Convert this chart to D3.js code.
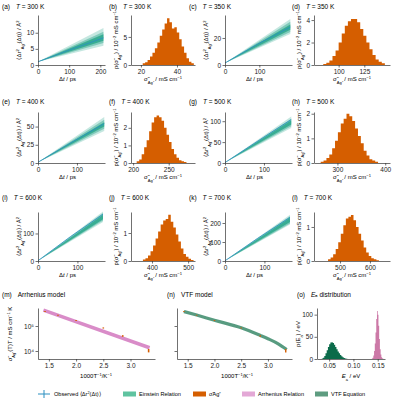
<!DOCTYPE html>
<html><head><meta charset="utf-8">
<script src="https://cdn.jsdelivr.net/npm/d3@7"></script>
<style>body{margin:0;background:#fff}svg{font-family:"Liberation Sans",Arial,sans-serif}</style>
</head><body><svg id="c" width="400" height="400"></svg>
<script>
// ---------- data ----------
const msdLabels=["(a)","(c)","(e)","(g)","(i)","(k)"];
const msdTemps=[300,350,400,500,600,700];
const msdTmax=[210,190,170,170,165,165];
const msdStart=[1,1.5,1,1,1,1];
const msdOuter=[[6,11.5],[23,34],[44,63],[84,111],[142,180],[192,243]];
const msdMid=[[6.8,10.3],[24.5,32],[47,59.5],[88,106],[147,174],[198,236]];
const msdInner=[[7.5,9.5],[26,30],[50,56],[92,102],[152,168],[205,228]];
const msdObsMidT=[105,95,85,100,82,82];
const msdObsMid=[4.8,15.5,28,62,88,118];
const msdObsEnd=[8.4,28,54,104,170,230];
const msdXTicks=[[0,100,200],[0,100],[0,100],[0,100],[0,100],[0,100]];
const msdYTicks=[[0,5,10],[0,20],[0,25,50],[0,50,100],[0,100],[0,100,200]];

const histLabels=["(b)","(d)","(f)","(h)","(j)","(l)"];
const histStart=[21,85,205,265,375,460];
const histWidth=[1.35,3,3.5,6,7,8.5];
const histCounts=[
 [0.3,0.5,0.9,1.5,2.2,3.0,4.0,5.2,6.3,7.4,8.3,7.6,6.5,6.7,5.8,4.6,3.3,2.2,1.2,0.6,0.3],
 [0.1,0.2,0.4,0.8,1.3,2.0,2.8,3.5,3.9,4.1,4.1,3.8,3.2,2.6,2.0,1.4,0.9,0.5,0.3,0.15],
 [0.1,0.2,0.5,0.9,1.3,1.8,2.3,2.6,2.7,2.6,2.4,2.0,1.6,1.2,0.8,0.5,0.3,0.15,0.1,0.05],
 [0.05,0.1,0.2,0.35,0.6,0.9,1.25,1.6,1.8,2.0,1.9,1.7,1.4,1.1,0.8,0.5,0.3,0.15,0.1,0.05],
 [0.05,0.1,0.2,0.35,0.55,0.8,1.05,1.3,1.45,1.5,1.65,1.4,1.2,0.95,0.7,0.45,0.25,0.15,0.08,0.04],
 [0.05,0.1,0.2,0.35,0.55,0.8,1.05,1.25,1.3,1.35,1.2,1.0,0.8,0.6,0.4,0.25,0.15,0.08,0.05,0.02]];
const histXTicks=[[20,40],[100,125],[200,250],[300,400],[400,500],[500,600]];
const histYTicks=[[0,5],[0,2,4],[0,1,2],[0,1,2],[0,1],[0,1]];

const invT=[3.333,2.857,2.5,2.0,1.667,1.429];
const sigT=[1.05e4,4.0e4,8.3e4,1.65e5,2.7e5,3.8e5];
const sigTLo=[0.88e4,3.7e4,7.9e4,1.58e5,2.6e5,3.65e5];
const sigTHi=[1.2e4,4.3e4,8.8e4,1.72e5,2.8e5,3.95e5];
const arrLineX=[1.4,3.35];
const arrLineY=[4.3e5,1.35e4];
const vtfX=[1.43,1.667,2.0,2.5,2.857,3.0,3.2,3.35];
const vtfY=[3.8e5,2.75e5,1.7e5,8.5e4,4.2e4,3.1e4,1.9e4,1.15e4];
const eaGreenStart=0.035, eaGreenW=0.0025;
const eaGreen=[1,3,7,13,20,27,33,37,38,36,32,27,22,17,13,9,6,4,2,1,0.5,0.2];
const eaPinkStart=0.138, eaPinkW=0.0015;
const eaPink=[1,3,8,18,35,60,90,108,100,75,45,22,10,4,1.5,0.5];

// ---------- styling ----------
const ORANGE="#d55e00", TEAL="#19a183", BLUE="#2a8fc0", PINK="#d98cc8", DGREEN="#0b6b4a", VTF="#3b8a6a";
const svg=d3.select("#c");
const FS=6.5;

function axes(g,x,y,xt,yt,xfmt,yfmt){
  const xa=g.append("g").attr("transform",`translate(0,${y.range()[0]})`)
   .call(d3.axisBottom(x).tickValues(xt).tickSize(2.5).tickPadding(1.5).tickSizeOuter(0).tickFormat(xfmt||d3.format("")));
  const ya=g.append("g").attr("transform",`translate(${x.range()[0]},0)`)
   .call(d3.axisLeft(y).tickValues(yt).tickSize(2.5).tickPadding(1.5).tickSizeOuter(0).tickFormat(yfmt||d3.format("")));
  [xa,ya].forEach(a=>{a.selectAll("text").attr("font-size",FS).attr("fill","#222");
    a.selectAll("path,line").attr("stroke","#333").attr("stroke-width",0.7);});
  return [xa,ya];
}
function title(x,y,lab,txt){
  const t=svg.append("text").attr("x",x).attr("y",y).attr("font-size",FS);
  t.append("tspan").text(lab);
  t.append("tspan").attr("dx",6).attr("font-style","italic").text(txt[0]);
  const b=t.append("tspan").text(txt[1]);
  if(!txt[0]) b.attr("dx",6);
}
function lab(t,parts){
  parts.forEach(p=>{const s=t.append("tspan").text(p[0]); if(p[1]) s.attr("baseline-shift",p[1]).attr("font-size",FS-2.5); if(p[2]) s.attr("font-style","italic");});
}
function ylab(x,y,parts){
  lab(svg.append("text").attr("transform",`translate(${x},${y}) rotate(-90)`).attr("text-anchor","middle").attr("font-size",FS-0.5),parts);
}
function xlab(x,y,parts){
  lab(svg.append("text").attr("x",x).attr("y",y).attr("text-anchor","middle").attr("font-size",FS-0.5),parts);
}
const msdY=[["⟨Δ"],["r"],["2","super"],["Ag⁺","sub"],["(Δt)⟩ / Å"],["2","super"]];
const histY=[["p(σ̃"],["Ag⁺","sub"],[") / 10"],["−2","super"],[" mS cm"],["−1","super"]];
const histX=[["σ̃"],["Ag⁺","sub"],[" / mS cm"],["−1","super"]];

// layout (pixels)
const colL=[38,131,225,314], colR=[105,195,292,390];
const rowT=[15,112,212], rowB=[65,163,261], titleY=[9,104,200];
const msdCol=[0,2,0,2,0,2], msdRow=[0,0,1,1,2,2];
const histCol=[1,3,1,3,1,3];
const msdXDom=[[0,215],[0,195],[0,172],[0,172],[0,170],[0,170]];
const msdYDom=[[0,15.5],[0,37],[0,70],[0,122],[0,178],[0,258]];
const histXDom=[[14.5,50],[76,150],[197,287],[251,410],[342,519],[413,667]];
const histYDom=[[0,8.9],[0,4.45],[0,2.9],[0,2.07],[0,1.75],[0,1.44]];

function stepHist(g,x,y,arr,s,w,col){
  const pts=[];
  arr.forEach((d,k)=>{pts.push([s+k*w,d]);pts.push([s+(k+1)*w,d]);});
  g.append("path").attr("d",d3.area().x(d=>x(d[0])).y0(y(0)).y1(d=>y(d[1]))(pts)).attr("fill",col);
}

for(let i=0;i<6;i++){
  const c=msdCol[i], r=msdRow[i];
  const x=d3.scaleLinear().domain(msdXDom[i]).range([colL[c],colR[c]]);
  const y=d3.scaleLinear().domain(msdYDom[i]).range([rowB[r],rowT[r]]);
  const g=svg.append("g");
  const band=(lohi,op)=>{
    g.append("path").attr("d",d3.line()([[x(0),y(msdStart[i])],[x(msdTmax[i]),y(lohi[1])],[x(msdTmax[i]),y(lohi[0])]])+"Z")
     .attr("fill",TEAL).attr("opacity",op);
  };
  band(msdOuter[i],0.25); band(msdMid[i],0.4); band(msdInner[i],0.7);
  g.append("path").attr("d",d3.line()([[x(0),y(msdStart[i])],[x(msdObsMidT[i]),y(msdObsMid[i])],[x(msdTmax[i]),y(msdObsEnd[i])]]))
   .attr("fill","none").attr("stroke",BLUE).attr("stroke-width",1).attr("opacity",0.8);
  axes(g,x,y,msdXTicks[i],msdYTicks[i]);
  title(colL[c]-38+2,titleY[r],msdLabels[i],["T"," = "+msdTemps[i]+" K"]);
  ylab(colL[c]-17,(rowT[r]+rowB[r])/2,msdY);
  xlab((colL[c]+colR[c])/2-4,rowB[r]+16,[["Δ"],["t",null,true],[" / ps"]]);
}
for(let i=0;i<6;i++){
  const c=histCol[i], r=msdRow[i];
  const x=d3.scaleLinear().domain(histXDom[i]).range([colL[c],colR[c]]);
  const y=d3.scaleLinear().domain(histYDom[i]).range([rowB[r],rowT[r]]);
  const g=svg.append("g");
  stepHist(g,x,y,histCounts[i],histStart[i],histWidth[i],ORANGE);
  axes(g,x,y,histXTicks[i],histYTicks[i]);
  title(colL[c]-22,titleY[r],histLabels[i],["T"," = "+msdTemps[i]+" K"]);
  ylab(colL[c]-13,(rowT[r]+rowB[r])/2,histY);
  xlab((colL[c]+colR[c])/2,rowB[r]+16,histX);
}
const bT=308,bB=359;
const logFmt=d=>d===1e4?"10⁴":d===1e5?"10⁵":"";
{
  const x=d3.scaleLinear().domain([1.3,3.45]).range([38,155]);
  const y=d3.scaleLog().domain([10**3.68,10**5.72]).range([bB,bT]);
  const g=svg.append("g");
  g.append("path").attr("d",d3.line().x(d=>x(d[0])).y(d=>y(d[1]))(arrLineX.map((v,k)=>[v,arrLineY[k]])))
   .attr("stroke",PINK).attr("stroke-width",3.5).attr("fill","none");
  g.selectAll("line.e").data(invT).join("line").attr("x1",d=>x(d)).attr("x2",d=>x(d))
   .attr("y1",(d,k)=>y(sigTLo[k])).attr("y2",(d,k)=>y(sigTHi[k])).attr("stroke",ORANGE).attr("stroke-width",1.6);
  axes(g,x,y,[1.5,2.0,2.5,3.0],[1e4,1e5],d3.format(".1f"),logFmt);
  title(2,297,"(m)",["","Arrhenius model"]);
  ylab(12,334,[["σ̃"],["Ag⁺","sub"],["(T)T / mS cm"],["−1","super"],[" K"]]);
  xlab(96,378,[["1000T"],["−1","super"],["/K"],["−1","super"]]);
}
{
  const x=d3.scaleLinear().domain([1.3,3.45]).range([177,292]);
  const y=d3.scaleLog().domain([10**3.68,10**5.72]).range([bB,bT]);
  const g=svg.append("g");
  g.append("path").attr("d",d3.line().curve(d3.curveMonotoneX).x(d=>x(d[0])).y(d=>y(d[1]))(vtfX.map((v,k)=>[v,vtfY[k]])))
   .attr("stroke",VTF).attr("stroke-width",3.2).attr("fill","none").attr("opacity",0.85);
  g.selectAll("line.e").data(invT).join("line").attr("x1",d=>x(d)).attr("x2",d=>x(d))
   .attr("y1",(d,k)=>y(sigTLo[k])).attr("y2",(d,k)=>y(sigTHi[k])).attr("stroke",ORANGE).attr("stroke-width",1.4);
  axes(g,x,y,[1.5,2.0,2.5,3.0],[1e4,1e5],d3.format(".1f"),()=>"");
  title(167,297,"(n)",["","VTF model"]);
  xlab(237,378,[["1000T"],["−1","super"],["/K"],["−1","super"]]);
}
{
  const x=d3.scaleLinear().domain([0.025,0.165]).range([317,385]);
  const y=d3.scaleLinear().domain([0,115]).range([bB,bT]);
  const g=svg.append("g");
  stepHist(g,x,y,eaGreen,eaGreenStart,eaGreenW,DGREEN);
  stepHist(g,x,y,eaPink,eaPinkStart,eaPinkW,"#cc79a7");
  axes(g,x,y,[0.05,0.10,0.15],[0,50,100],d3.format(".2f"));
  title(297,297,"(o)",["Eₐ"," distribution"]);
  ylab(300,334,[["p(E"],["a","sub"],[") / eV"]]);
  xlab(351,378,[["E",null,true],["a","sub"],[" / eV"]]);
}
{
  const ly=394;
  const g=svg.append("g").attr("font-size",5.6);
  g.append("line").attr("x1",38).attr("x2",50).attr("y1",ly).attr("y2",ly).attr("stroke",BLUE);
  g.append("line").attr("x1",44).attr("x2",44).attr("y1",ly-4).attr("y2",ly+4).attr("stroke",BLUE);
  const t=g.append("text").attr("x",54).attr("y",ly+2);
  t.append("tspan").text("Observed ⟨Δr"); t.append("tspan").attr("baseline-shift","super").attr("font-size",3.8).text("2");
  t.append("tspan").text("(Δt)⟩");
  const sw=[[123,"#5fc3a0","Einstein Relation"],[193,ORANGE,"σ̃Ag⁺"],[242,"#e3a8d6","Arrhenius Relation"],[315,"#5e9c80","VTF Equation"]];
  sw.forEach(s=>{g.append("rect").attr("x",s[0]).attr("y",ly-2.5).attr("width",13).attr("height",5).attr("fill",s[1]);
    g.append("text").attr("x",s[0]+16).attr("y",ly+2).text(s[2]);});
}
</script></body></html>
